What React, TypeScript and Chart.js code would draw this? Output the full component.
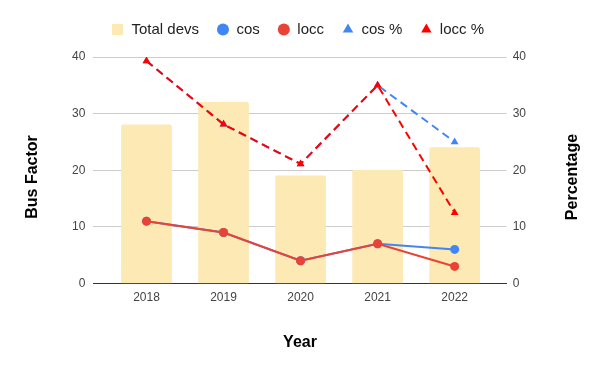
import React, { useEffect, useRef } from "react";
import { Chart, registerables } from "chart.js";

Chart.register(...registerables);

const years = ["2018", "2019", "2020", "2021", "2022"];
const totalDevs = [28, 32, 19, 20, 24];
const cos = [11, 9, 4, 7, 6];
const locc = [11, 9, 4, 7, 3];
const cosPct = [39.3, 28.1, 21.1, 35, 25];
const loccPct = [39.3, 28.1, 21.1, 35, 12.5];

const leftTitle = "Bus Factor";
const rightTitle = "Percentage";
const xTitle = "Year";

const FONT = "'Liberation Sans', Arial, sans-serif";
const BAR_COLOR = "#FCE9B3";

const pts = (arr: number[]) => arr.map((v, i) => ({ x: i, y: v }));

const sideTitles = {
  id: "sideTitles",
  afterDraw(chart: any) {
    const ctx = chart.ctx;
    ctx.save();
    ctx.font = `bold 16px ${FONT}`;
    ctx.fillStyle = "#000";
    ctx.textAlign = "center";
    ctx.textBaseline = "middle";
    const cy = 177;
    [
      [33, leftTitle],
      [573, rightTitle],
    ].forEach(([x, t]) => {
      ctx.save();
      ctx.translate(x as number, cy);
      ctx.rotate(-Math.PI / 2);
      ctx.fillText(t as string, 0, 0);
      ctx.restore();
    });
    ctx.restore();
  },
};

const legendSpacer = {
  id: "legendSpacer",
  beforeInit(chart: any) {
    const legend = chart.legend;
    if (!legend) return;
    const orig = legend.fit;
    legend.fit = function () {
      orig.call(this);
      this.height += 10;
    };
  },
};

export default function App() {
  const ref = useRef<HTMLCanvasElement | null>(null);
  useEffect(() => {
    if (!ref.current) return;
    const sq = document.createElement("canvas");
    sq.width = 11;
    sq.height = 11;
    const sctx = sq.getContext("2d")!;
    sctx.fillStyle = BAR_COLOR;
    sctx.fillRect(0, 0, 11, 11);

    const chart = new Chart(ref.current, {
      type: "bar",
      plugins: [sideTitles, legendSpacer],
      data: {
        datasets: [
          {
            type: "bar",
            label: "Total devs",
            data: pts(totalDevs),
            backgroundColor: BAR_COLOR,
            borderRadius: 2,
            barThickness: 50,
            pointStyle: "rect",
            yAxisID: "y",
            order: 10,
          } as any,
          {
            type: "line",
            label: "cos",
            data: pts(cos),
            borderColor: "#4285F4",
            backgroundColor: "#4285F4",
            borderWidth: 2,
            pointRadius: 4.5,
            pointBorderWidth: 0,
            pointStyle: "circle",
            yAxisID: "y",
            order: 4,
          },
          {
            type: "line",
            label: "locc",
            data: pts(locc),
            borderColor: "#EA4335",
            backgroundColor: "#EA4335",
            borderWidth: 2,
            pointRadius: 4.5,
            pointBorderWidth: 0,
            pointStyle: "circle",
            yAxisID: "y",
            order: 3,
          },
          {
            type: "line",
            label: "cos %",
            data: pts(cosPct),
            borderColor: "#4285F4",
            backgroundColor: "#4285F4",
            borderWidth: 2,
            borderDash: [8, 5],
            pointRadius: 4.5,
            pointBorderWidth: 0,
            pointStyle: "triangle",
            yAxisID: "y1",
            order: 2,
          },
          {
            type: "line",
            label: "locc %",
            data: pts(loccPct),
            borderColor: "#FF0000",
            backgroundColor: "#FF0000",
            borderWidth: 2,
            borderDash: [8, 5],
            pointRadius: 4.5,
            pointBorderWidth: 0,
            pointStyle: "triangle",
            yAxisID: "y1",
            order: 1,
          },
        ],
      },
      options: {
        responsive: false,
        animation: false,
        devicePixelRatio: 1,
        layout: { padding: { top: 4, left: 64, right: 68, bottom: 19 } },
        plugins: {
          tooltip: { enabled: false },
          legend: {
            position: "top",
            labels: {
              usePointStyle: true,
              boxHeight: 8.5,
              boxWidth: 12,
              padding: 18,
              color: "#222",
              font: { family: FONT, size: 15 },
              sort: (a: any, b: any) => a.datasetIndex - b.datasetIndex,
              generateLabels: (c: any) => {
                const items = (Chart.defaults.plugins.legend.labels as any).generateLabels(c);
                items.forEach((it: any) => {
                  it.lineWidth = 0;
                  it.lineDash = [];
                  if (it.datasetIndex === 0) it.pointStyle = sq;
                });
                return items;
              },
            },
          },
        },
        scales: {
          x: {
            type: "linear",
            offset: false,
            min: -0.69,
            max: 4.675,
            afterBuildTicks: (scale: any) => {
              scale.ticks = years.map((_, i) => ({ value: i }));
            },
            ticks: {
              color: "#444",
              font: { family: FONT, size: 12 },
              padding: 7,
              callback: (v: any) => years[v as number] ?? "",
            },
            grid: { display: false, drawTicks: false },
            border: { display: true, color: "#333", width: 1 },
            title: {
              display: true,
              text: xTitle,
              color: "#000",
              font: { family: FONT, size: 16, weight: "bold" },
              padding: { top: 21, bottom: 0 },
            },
          },
          y: {
            type: "linear",
            position: "left",
            min: 0,
            max: 40,
            ticks: {
              stepSize: 10,
              color: "#444",
              font: { family: FONT, size: 12 },
              padding: 8,
            },
            grid: { color: "#CCCCCC", drawTicks: false },
            border: { display: false },
          },
          y1: {
            type: "linear",
            position: "right",
            min: 0,
            max: 40,
            ticks: {
              stepSize: 10,
              color: "#444",
              font: { family: FONT, size: 12 },
              padding: 6,
            },
            grid: { drawOnChartArea: false, drawTicks: false },
            border: { display: false },
          },
        },
      } as any,
    });
    return () => chart.destroy();
  }, []);
  return (
    <div style={{ position: "fixed", left: 0, top: 0, width: 600, height: 371, background: "#fff" }}>
      <canvas ref={ref} width={600} height={371} />
    </div>
  );
}
